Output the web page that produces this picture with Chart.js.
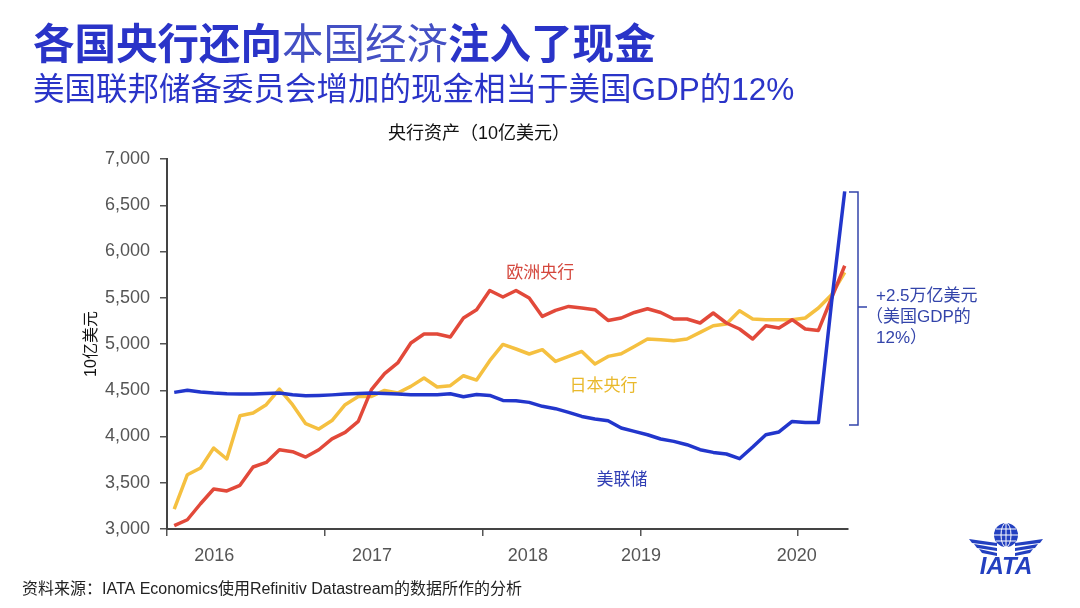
<!DOCTYPE html>
<html>
<head>
<meta charset="utf-8">
<script src="https://cdn.jsdelivr.net/npm/chart.js@4.4.1/dist/chart.umd.min.js"></script>
<style>
  html, body { margin: 0; padding: 0; background: #fff; }
  canvas { display: block; }
</style>
</head>
<body>
<canvas id="chart" width="1080" height="608"></canvas>
<script>
// monthly values, Jan 2016 .. Apr 2020 (10亿美元)
const fedValues = [4477,4499,4481,4470,4463,4460,4460,4465,4470,4452,4440,4444,4450,4459,4465,4470,4465,4459,4452,4452,4452,4463,4430,4455,4444,4390,4387,4369,4326,4301,4261,4217,4189,4171,4092,4055,4019,3973,3947,3911,3857,3828,3811,3760,3886,4019,4049,4163,4152,4152,5450,6650];
const ecbValues = [3036,3100,3273,3432,3411,3472,3670,3720,3857,3836,3778,3857,3975,4044,4163,4506,4679,4795,5011,5108,5108,5076,5281,5371,5579,5508,5579,5497,5298,5363,5406,5389,5371,5255,5281,5341,5381,5341,5270,5270,5227,5335,5227,5162,5054,5197,5173,5263,5162,5147,5497,5846];
const bojValues = [3216,3587,3659,3875,3757,4225,4254,4344,4513,4344,4138,4081,4172,4344,4433,4433,4498,4470,4542,4632,4535,4549,4657,4610,4820,4995,4946,4892,4939,4812,4866,4920,4784,4866,4895,4974,5054,5046,5035,5054,5125,5197,5216,5360,5270,5263,5263,5263,5281,5389,5533,5774];
const yearLabels = ["2016", "2017", "2018", "2019", "2020"];
const yearStarts = [0, 12, 24, 36, 48];
const yTicks = [3000, 3500, 4000, 4500, 5000, 5500, 6000, 6500, 7000];

const BLUE = "#2236cc", RED = "#e2493a", YELLOW = "#f5c040";
const CJK = "'Liberation Sans', 'Noto Sans CJK SC', sans-serif";

const toPoints = vals => vals.map((v, i) => ({ x: i + 0.55, y: v }));

const textPlugin = {
  id: "texts",
  afterDraw(chart) {
    const ctx = chart.ctx;
    const xs = chart.scales.x, ys = chart.scales.y;
    ctx.save();
    ctx.textBaseline = "middle";
    ctx.textAlign = "left";

    // title
    let x = 33;
    const parts = [["各国央行还向", "bold", "#2a34c8"], ["本国经济", "normal", "#4450c4"], ["注入了现金", "bold", "#2a34c8"]];
    parts.forEach(([t, w, c]) => {
      ctx.font = `${w} 41.5px ${CJK}`;
      ctx.fillStyle = c;
      ctx.fillText(t, x, 48);
      x += ctx.measureText(t).width;
    });
    ctx.font = `31.5px ${CJK}`;
    ctx.fillStyle = "#2a34c8";
    ctx.fillText("美国联邦储备委员会增加的现金相当于美国GDP的12%", 33, 91);

    ctx.textAlign = "center";
    ctx.font = `18px ${CJK}`;
    ctx.fillStyle = "#111";
    ctx.fillText("央行资产（10亿美元）", 479, 134);

    // series labels
    ctx.font = `17px ${CJK}`;
    ctx.fillStyle = "#d4473d";
    ctx.fillText("欧洲央行", xs.getPixelForValue(28.4), ys.getPixelForValue(5760));
    ctx.fillStyle = "#e9b92c";
    ctx.fillText("日本央行", xs.getPixelForValue(33.2), ys.getPixelForValue(4538));
    ctx.fillStyle = "#2f3db4";
    ctx.fillText("美联储", xs.getPixelForValue(34.6), ys.getPixelForValue(3522));

    // bracket
    ctx.strokeStyle = "#3344aa";
    ctx.lineWidth = 1.5;
    ctx.beginPath();
    ctx.moveTo(849, 192); ctx.lineTo(858, 192); ctx.lineTo(858, 425); ctx.lineTo(849, 425);
    ctx.moveTo(858, 307); ctx.lineTo(867, 307);
    ctx.stroke();
    ctx.textAlign = "left";
    ctx.font = `17px ${CJK}`;
    ctx.fillStyle = "#3344aa";
    ctx.fillText("+2.5万亿美元", 876, 296);
    ctx.fillText("（美国GDP的", 866, 317);
    ctx.fillText("12%）", 876, 338);

    // source
    ctx.font = `16px ${CJK}`;
    ctx.fillStyle = "#222";
    ctx.fillText("资料来源：IATA Economics使用Refinitiv Datastream的数据所作的分析", 22, 590);

    // IATA logo
    const lc = "#2340c0";
    ctx.fillStyle = lc;
    ctx.beginPath();
    ctx.arc(1006, 535, 12, 0, Math.PI * 2);
    ctx.fill();
    ctx.strokeStyle = "#fff";
    ctx.lineWidth = 1;
    ctx.beginPath();
    ctx.ellipse(1006, 535, 5, 12, 0, 0, Math.PI * 2);
    ctx.moveTo(1006, 523); ctx.lineTo(1006, 547);
    ctx.moveTo(994, 535); ctx.lineTo(1018, 535);
    ctx.moveTo(996, 529); ctx.lineTo(1016, 529);
    ctx.moveTo(996, 541); ctx.lineTo(1016, 541);
    ctx.stroke();
    ctx.fillStyle = lc;
    for (let k = 0; k < 3; k++) {
      const y0 = 540 + k * 5;
      const len = 28 - k * 5;
      ctx.beginPath();
      ctx.moveTo(997, y0 + 3); ctx.lineTo(997 - len, y0 - 1); ctx.lineTo(997 - len + 3, y0 + 3); ctx.lineTo(997, y0 + 6);
      ctx.fill();
      ctx.beginPath();
      ctx.moveTo(1015, y0 + 3); ctx.lineTo(1015 + len, y0 - 1); ctx.lineTo(1015 + len - 3, y0 + 3); ctx.lineTo(1015, y0 + 6);
      ctx.fill();
    }
    ctx.textAlign = "center";
    ctx.font = "italic bold 24px 'Liberation Sans', Arial, sans-serif";
    ctx.fillText("IATA", 1006, 567);
    ctx.restore();
  }
};

new Chart(document.getElementById("chart"), {
  type: "line",
  data: {
    datasets: [
      { label: "美联储", data: toPoints(fedValues), borderColor: BLUE, borderWidth: 3.5 },
      { label: "欧洲央行", data: toPoints(ecbValues), borderColor: RED, borderWidth: 3.5 },
      { label: "日本央行", data: toPoints(bojValues), borderColor: YELLOW, borderWidth: 3.5 }
    ]
  },
  options: {
    responsive: false,
    animation: false,
    events: [],
    elements: { point: { radius: 0 }, line: { tension: 0, borderJoinStyle: "round" } },
    layout: { padding: { top: 159, right: 232, bottom: 0, left: 78 } },
    plugins: { legend: { display: false }, tooltip: { enabled: false } },
    scales: {
      x: {
        type: "linear", min: 0, max: 51.8, weight: 0,
        afterBuildTicks: s => { s.ticks = yearStarts.map(v => ({ value: v })); },
        afterFit: s => { s.height = 10; },
        ticks: { callback: () => "" },
        grid: { display: true, drawOnChartArea: false, drawTicks: true, tickLength: 7, color: "#555", lineWidth: 1.5 },
        border: { display: true, color: "#444", width: 2 }
      },
      x2: {
        type: "linear", position: "bottom", min: 0, max: 51.8, weight: 1,
        afterBuildTicks: s => { s.ticks = [3.6, 15.6, 27.45, 36.05, 47.9].map(v => ({ value: v })); },
        afterFit: s => { s.height = 69; },
        ticks: { callback: (v, i) => yearLabels[i], autoSkip: false, maxRotation: 0, padding: 6, color: "#555", font: { size: 18, family: "'Liberation Sans', Arial, sans-serif" } },
        grid: { display: false, drawTicks: false },
        border: { display: false }
      },
      y: {
        min: 3000, max: 7000,
        afterBuildTicks: s => { s.ticks = yTicks.map(v => ({ value: v })); },
        afterFit: s => { s.width = 89; },
        ticks: { callback: v => v.toLocaleString("en-US"), padding: 10, color: "#555", font: { size: 18, family: "'Liberation Sans', Arial, sans-serif" } },
        grid: { display: true, drawOnChartArea: false, drawTicks: true, tickLength: 7, color: "#555", lineWidth: 1.5 },
        border: { display: true, color: "#444", width: 2 },
        title: { display: true, text: "10亿美元", color: "#111", padding: 4, font: { size: 16, family: CJK } }
      }
    }
  },
  plugins: [textPlugin]
});
</script>
</body>
</html>
